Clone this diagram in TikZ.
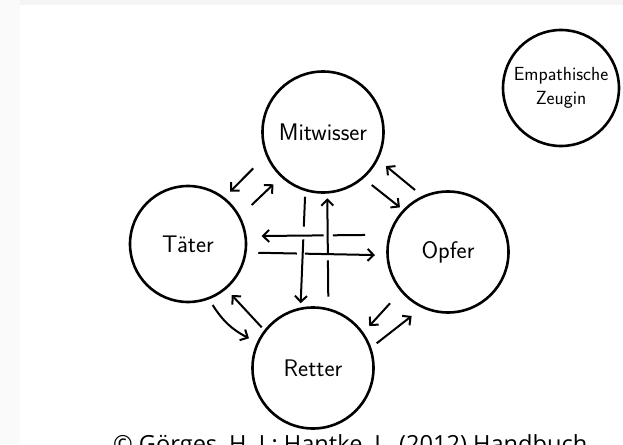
\documentclass[tikz,border=0pt]{standalone}
\usepackage{fontspec}
\newfontfamily\quellefont{Open Sans}
\usetikzlibrary{arrows.meta,calc}

\begin{document}
\begin{tikzpicture}[x=1pt, y=-1pt,
    rolle/.style={circle, draw, line width=2.6pt, minimum size=121pt, inner sep=0pt,
      font=\fontsize{24}{28}\selectfont\sffamily},
    pfeil/.style={line width=2pt, -{Straight Barb[length=6pt,width=12pt]}},
    strich/.style={line width=2pt}]
  \useasboundingbox (0,0) rectangle (623,444);
  \clip (0,0) rectangle (623,444);
  \fill[gray!4] (0,0) rectangle (20,444);
  \fill[gray!8] (20,0) rectangle (623,5);

  % Rollen
  \node[rolle] (M) at (323,132) {Mitwisser};
  \node[rolle, minimum size=116pt] (T) at (188,244) {T\"ater};
  \node[rolle] (O) at (448,252) {Opfer};
  \node[rolle] (R) at (313,368) {Retter};
  \node[rolle, minimum size=116pt, align=center, font=\fontsize{19}{24}\selectfont\sffamily] (Z) at (561,88) {Empathische\\Zeugin};

  % Pfeile zwischen Nachbarn
  \foreach \a/\wa/\da/\b/\wb/\db in {M/152.5/78.6/T/-51.2/67.1, T/-31.5/74.7/M/133.5/72.1,
      M/47.4/72.0/O/-137.1/65.6, O/-118/70.2/M/28.4/71.6,
      O/138.5/77.4/R/-36.7/70.2, R/-21.2/68.3/O/119.6/73.6,
      R/-141.6/65.5/T/49.4/67.2}
    \draw[pfeil] ([shift={(\wa:\da)}]\a.center) -- ([shift={(\wb:\db)}]\b.center);
  \draw[pfeil] ([shift={(68:65.8)}]T.center) to[bend right=15] ([shift={(-155.1:70.6)}]R.center);

  % Kreuz in der Mitte
  \coordinate (h1s) at ([shift={(-168.4:84.7)}]O.center);
  \coordinate (h1e) at ([shift={(-6.2:74.1)}]T.center);
  \coordinate (h2s) at ([shift={(7.1:70.8)}]T.center);
  \coordinate (h2e) at ([shift={(177.6:73.1)}]O.center);
  \coordinate (v1s) at ([shift={(105.5:67.2)}]M.center);
  \coordinate (v1e) at ([shift={(-100.8:65.9)}]R.center);
  \coordinate (v2s) at ([shift={(-77.9:72.9)}]R.center);
  \coordinate (v2e) at ([shift={(86.3:66.4)}]M.center);
  \foreach \k/\p/\q in {h1/0.31/0.40, h2/0.33/0.40, v1/0.28/0.40, v2/0.37/0.44} {
    \draw[strich] (\k s) -- ($(\k s)!\p!(\k e)$);
    \draw[pfeil] ($(\k s)!\q!(\k e)$) -- (\k e);
  }

  \node[font=\fontsize{23.6}{26}\selectfont\quellefont, anchor=base west, inner sep=0pt] (quelle) at (113,452.8)
    {\textcopyright{} G\"orges, H. J.; Hantke, L. (2012) Handbuch};
\end{tikzpicture}
\end{document}
